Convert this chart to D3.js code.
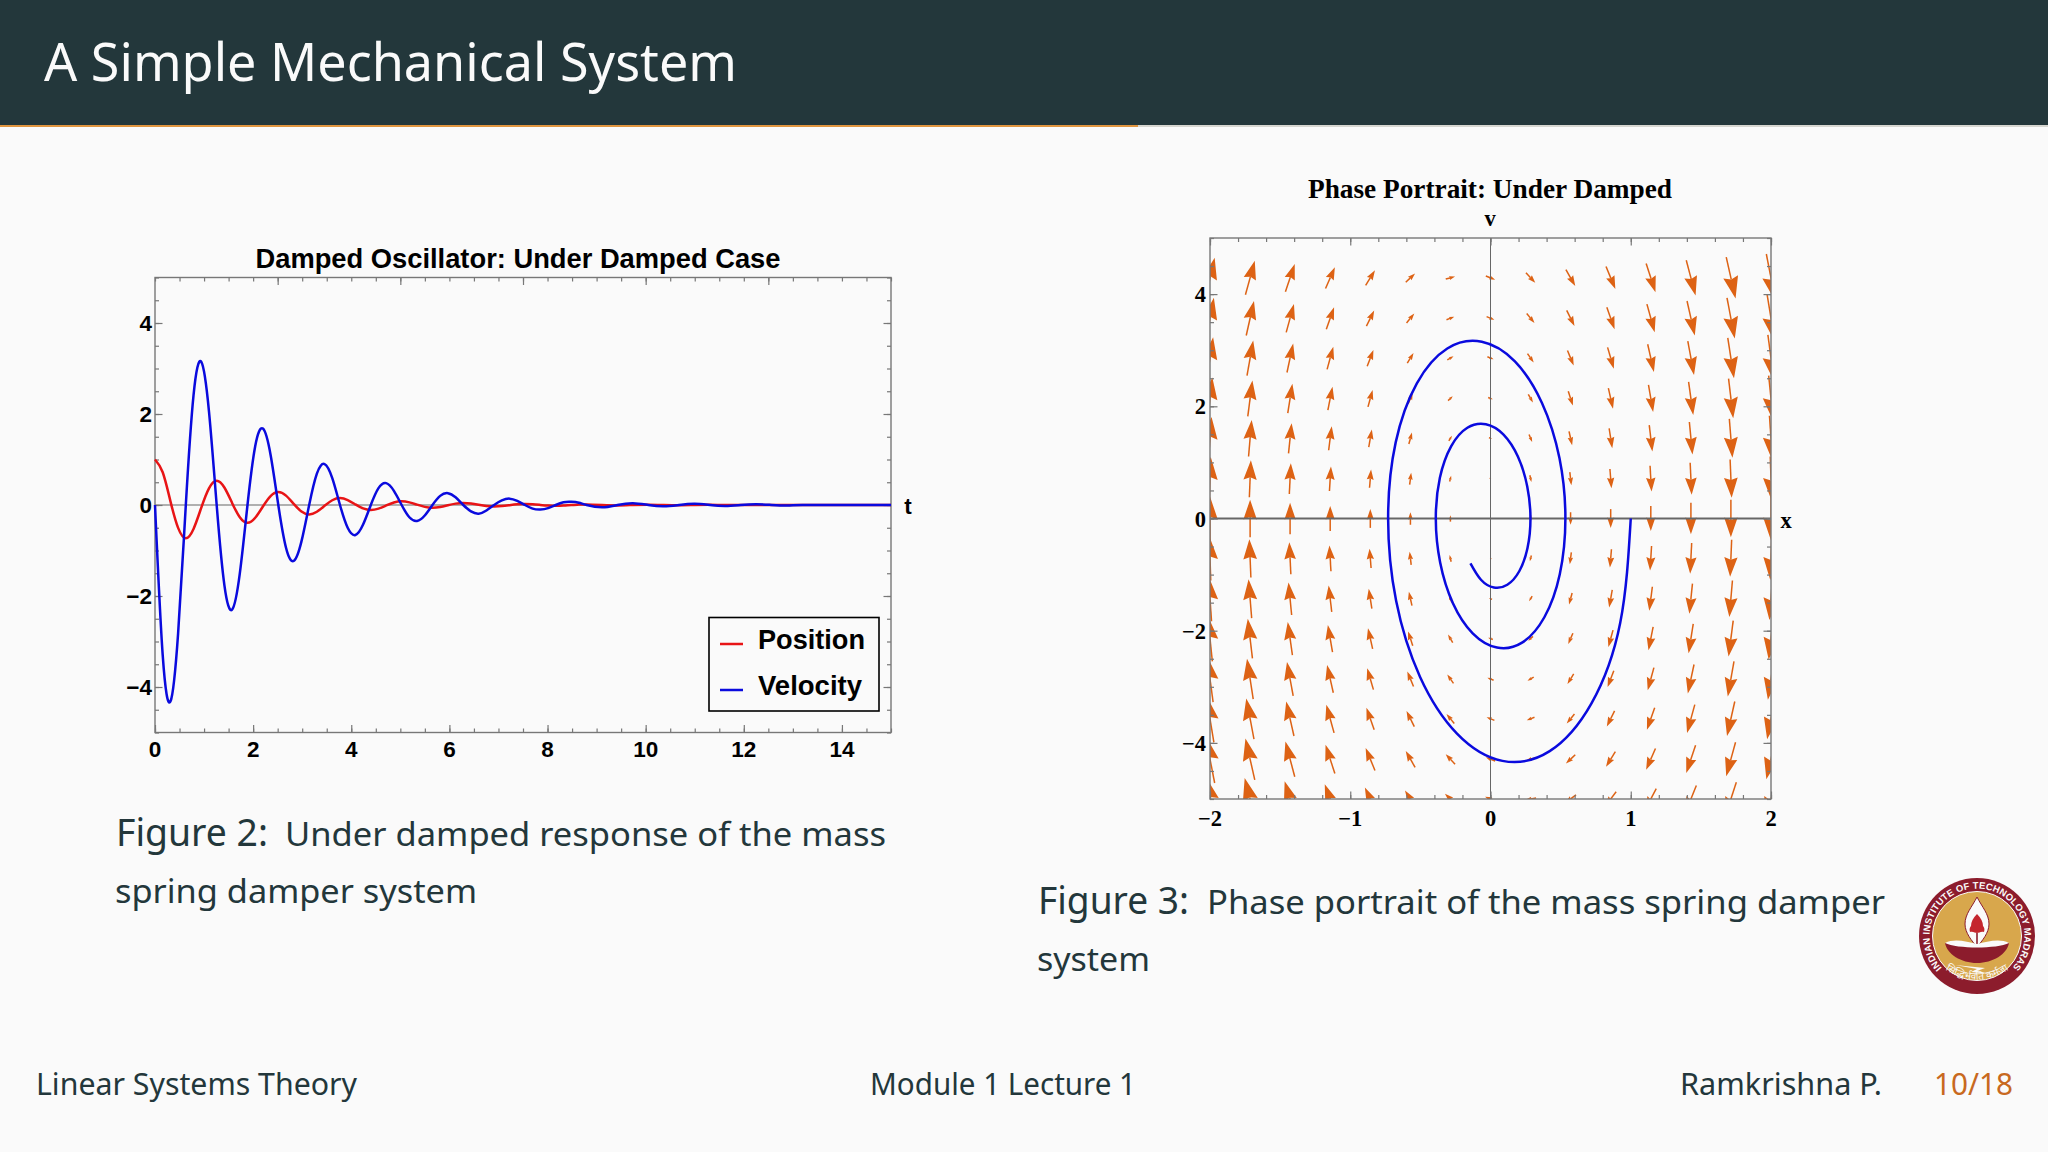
<!DOCTYPE html>
<html>
<head>
<meta charset="utf-8">
<script src="https://cdn.jsdelivr.net/npm/d3@7"></script>
<style>
  html, body { margin: 0; padding: 0; background: #fafafa; }
  svg { display: block; }
</style>
</head>
<body>
<svg id="slide" width="2048" height="1152"></svg>
<script>
// values
const timeValues = [0,.157,.314,.471,.628,.785,.942,1.1,1.257,1.414,1.571,1.728,1.885,2.042,2.199,2.356,2.513,2.67,2.827,2.985,
  3.142,3.299,3.456,3.613,3.77,3.927,4.084,4.241,4.398,4.555,4.712,4.869,5.027,5.184,5.341,5.498,5.655,5.812,5.969,6.126,
  6.283,6.44,6.597,6.754,6.912,7.069,7.226,7.383,7.54,7.697,7.854,8.011,8.168,8.325,8.482,8.639,8.796,
  9.111,9.425,9.739,10.053,10.367,10.681,10.996,11.31,11.624,11.938,12.252,12.566,12.881,13.195,13.823,14.451,15];
const positionValues = [1,.719,.085,-.503,-.73,-.525,-.062,.367,.534,.384,.046,-.268,-.39,-.28,-.033,.196,.285,.205,.024,-.143,
  -.208,-.149,-.018,.104,.152,.109,.013,-.076,-.111,-.08,-.01,.056,.081,.058,.007,-.041,-.059,-.043,-.005,.03,
  .043,.031,.004,-.022,-.031,-.023,-.003,.016,.023,.017,.002,-.012,-.017,-.012,0,.009,.012,
  0,-.009,0,.006,0,-.005,0,.003,0,-.002,0,.001,0,0,0,0,0];
const velocityValues = [0,-3.3,-4.32,-2.82,0,2.41,3.15,2.06,0,-1.76,-2.3,-1.51,0,1.29,1.68,1.1,0,-.94,-1.23,-.8,
  0,.69,.9,.59,0,-.5,-.66,-.43,0,.37,.48,.31,0,-.27,-.35,-.23,0,.2,.26,.17,
  0,-.14,-.19,-.12,0,.1,.14,.09,0,-.08,-.1,-.07,0,.06,.07,.05,0,
  -.05,0,.04,0,-.03,0,.025,0,-.02,0,.015,0,-.012,0,0,0,0];

// spiral in the phase plane, from (1, 0) inward
const phasePositions = [1,.925,.719,.422,.085,-.239,-.503,-.673,-.73,-.676,-.525,-.308,-.062,.174,.367,.492,.534,.494,.384,.225,
  .046,-.127,-.268,-.359,-.39,-.361,-.28,-.165,-.033,.093,.196,.262,.285,.2635,.205,.12,.024,-.068,-.143];
const phaseVelocities = [0,-1.858,-3.3,-4.147,-4.32,-3.834,-2.82,-1.468,0,1.357,2.41,3.03,3.15,2.8,2.06,1.073,0,-.992,-1.76,-2.213,
  -2.3,-2.046,-1.51,-.784,0,.725,1.29,1.617,1.68,1.495,1.1,.572,0,-.529,-.94,-1.181,-1.23,-1.092,-.8];

const seriesNames = ['Position', 'Velocity'];
const timeTicks = [0,2,4,6,8,10,12,14];
const timeTopTicks = [2.5,5,7.5,10,12.5];
const responseTicks = [-4,-2,0,2,4];
const phaseXTicks = [-2,-1,0,1,2];
const phaseVTicks = [-4,-2,0,2,4];

// vector field samples: columns in x, rows in v
const fieldX = [-2,-1.714,-1.429,-1.143,-.857,-.571,-.286,0,.286,.571,.857,1.143,1.429,1.714,2];
const fieldV = [4.29,3.57,2.86,2.14,1.43,.71,0,-.71,-1.43,-2.14,-2.86,-3.57,-4.29,-5];
const fieldDv = [
  [46.2,39.0,31.8,24.6,17.3,10.1,2.9,-4.3,-11.5,-18.7,-25.9,-33.2,-40.4,-47.6,-54.8],
  [46.9,39.7,32.5,25.3,18.0,10.8,3.6,-3.6,-10.8,-18.0,-25.2,-32.5,-39.7,-46.9,-54.1],
  [47.6,40.4,33.2,26.0,18.7,11.5,4.3,-2.9,-10.1,-17.3,-24.5,-31.8,-39.0,-46.2,-53.4],
  [48.4,41.2,34.0,26.8,19.5,12.3,5.1,-2.1,-9.3,-16.5,-23.7,-31.0,-38.2,-45.4,-52.6],
  [49.1,41.9,34.7,27.5,20.2,13.0,5.8,-1.4,-8.6,-15.8,-23.0,-30.3,-37.5,-44.7,-51.9],
  [49.8,42.6,35.4,28.2,20.9,13.7,6.5,-.7,-7.9,-15.1,-22.3,-29.6,-36.8,-44.0,-51.2],
  [50.5,43.3,36.1,28.9,21.6,14.4,7.2,0,-7.2,-14.4,-21.6,-28.9,-36.1,-43.3,-50.5],
  [51.2,44.0,36.8,29.6,22.3,15.1,7.9,.7,-6.5,-13.7,-20.9,-28.2,-35.4,-42.6,-49.8],
  [51.9,44.7,37.5,30.3,23.0,15.8,8.6,1.4,-5.8,-13.0,-20.2,-27.5,-34.7,-41.9,-49.1],
  [52.6,45.4,38.2,31.0,23.7,16.5,9.3,2.1,-5.1,-12.3,-19.5,-26.8,-34.0,-41.2,-48.4],
  [53.4,46.2,39.0,31.8,24.5,17.3,10.1,2.9,-4.3,-11.5,-18.7,-26.0,-33.2,-40.4,-47.6],
  [54.1,46.9,39.7,32.5,25.2,18.0,10.8,3.6,-3.6,-10.8,-18.0,-25.3,-32.5,-39.7,-46.9],
  [54.8,47.6,40.4,33.2,25.9,18.7,11.5,4.3,-2.9,-10.1,-17.3,-24.6,-31.8,-39.0,-46.2],
  [55.5,48.3,41.1,33.9,26.6,19.4,12.2,5.0,-2.2,-9.4,-16.6,-23.9,-31.1,-38.3,-45.5]
];

const INK = '#23373b', ORANGE = '#dd6214', FRAME = '#777';
const SLIDE_FONT = '"Noto Sans", sans-serif';
const SANS = '"Liberation Sans", Arial, sans-serif';
const SERIF = '"Liberation Serif", "Times New Roman", serif';
const minus = n => String(n).replace('-', '\u2212');

const svg = d3.select('#slide');

function label(parent, x, y, str, opts = {}) {
  const t = parent.append('text').attr('x', x).attr('y', y).text(str)
    .attr('font-family', opts.font || SLIDE_FONT)
    .attr('font-size', opts.size || 32)
    .attr('font-weight', opts.weight || 400)
    .attr('fill', opts.fill || INK)
    .attr('text-anchor', opts.anchor || 'start');
  if (opts.width) t.attr('textLength', opts.width).attr('lengthAdjust', 'spacingAndGlyphs');
  return t;
}

// slide chrome
svg.append('rect').attr('width', 2048).attr('height', 1152).attr('fill', '#fafafa');
svg.append('rect').attr('width', 2048).attr('height', 125).attr('fill', INK);
svg.append('rect').attr('y', 125).attr('width', 2048).attr('height', 2).attr('fill', '#d6d6d0');
svg.append('rect').attr('y', 125).attr('width', 1138).attr('height', 2).attr('fill', '#e0953f');
label(svg, 44, 81, 'A Simple Mechanical System', { size: 52, fill: '#fafafa', width: 693 });

label(svg, 116, 846, 'Figure 2:', { size: 39, width: 152 });
label(svg, 285, 846, 'Under damped response of the mass', { size: 33, width: 601 });
label(svg, 115, 903, 'spring damper system', { size: 33, width: 362 });
label(svg, 1038, 914, 'Figure 3:', { size: 39, width: 151 });
label(svg, 1207, 914, 'Phase portrait of the mass spring damper', { size: 33, width: 678 });
label(svg, 1037, 971, 'system', { size: 33, width: 113 });

label(svg, 36, 1095, 'Linear Systems Theory', { size: 30, width: 321 });
label(svg, 870, 1095, 'Module 1 Lecture 1', { size: 30, width: 266 });
label(svg, 1680, 1095, 'Ramkrishna P.', { size: 30, width: 202 });
label(svg, 1934, 1095, '10/18', { size: 30, width: 79, fill: '#c8691f' });

// inward tick marks on all four sides of a plot frame
function drawFrame(g, x, y, spec) {
  const [x0, x1] = x.range(), [y0, y1] = y.range();
  g.append('rect').attr('x', x0).attr('y', y1).attr('width', x1 - x0).attr('height', y0 - y1)
    .attr('fill', 'none').attr('stroke', FRAME).attr('stroke-width', 1.4);
  const style = a => a.call(s => s.select('.domain').remove())
    .call(s => s.selectAll('line').attr('stroke', FRAME).attr('stroke-width', 1.2))
    .call(s => s.selectAll('text').remove());
  const add = (axis, scale, vals, len, tx, ty) => g.append('g')
    .attr('transform', `translate(${tx},${ty})`)
    .call(axis(scale).tickValues(vals).tickSize(-len).tickFormat(''))
    .call(style);
  add(d3.axisBottom, x, spec.xMinor, 4, 0, y0);
  add(d3.axisBottom, x, spec.xMajor, 7.5, 0, y0);
  add(d3.axisTop, x, spec.xMinor, 4, 0, y1);
  add(d3.axisTop, x, spec.xTopMajor, 7.5, 0, y1);
  add(d3.axisLeft, y, spec.yMinor, 4, x0, 0);
  add(d3.axisLeft, y, spec.yMajor, 7.5, x0, 0);
  add(d3.axisRight, y, spec.yMinor, 4, x1, 0);
  add(d3.axisRight, y, spec.yMajor, 7.5, x1, 0);
}

// response plot
const plotA = svg.append('g');
const tScale = d3.scaleLinear().domain([0, 15]).range([155, 891]);
const rScale = d3.scaleLinear().domain([-5, 5]).range([732.5, 277.5]);

label(plotA, 518, 268, 'Damped Oscillator: Under Damped Case', { font: SANS, weight: 700, size: 27, fill: '#000', anchor: 'middle', width: 525 });

plotA.append('line').attr('x1', tScale(0)).attr('x2', tScale(15))
  .attr('y1', rScale(0)).attr('y2', rScale(0)).attr('stroke', '#666').attr('stroke-width', 1.2);
drawFrame(plotA, tScale, rScale, {
  xMinor: d3.range(0, 15.01, .5), xMajor: timeTicks, xTopMajor: timeTopTicks,
  yMinor: d3.range(-5, 5.01, .5), yMajor: responseTicks
});

const responseLine = values => d3.line().curve(d3.curveNatural)
  .x((_, i) => tScale(timeValues[i])).y(d => rScale(d))(values);
plotA.append('path').attr('d', responseLine(positionValues))
  .attr('fill', 'none').attr('stroke', '#e81416').attr('stroke-width', 2.5);
plotA.append('path').attr('d', responseLine(velocityValues))
  .attr('fill', 'none').attr('stroke', '#0a0ade').attr('stroke-width', 2.5);

timeTicks.forEach(t => label(plotA, tScale(t), 757, t, { font: SANS, weight: 700, size: 22.5, fill: '#000', anchor: 'middle' }));
responseTicks.forEach(r => label(plotA, 152, rScale(r) + 8, minus(r), { font: SANS, weight: 700, size: 22.5, fill: '#000', anchor: 'end' }));
label(plotA, 908, 514, 't', { font: SANS, weight: 700, size: 22.5, fill: '#000', anchor: 'middle' });

// legend
plotA.append('rect').attr('x', 709).attr('y', 617.5).attr('width', 170).attr('height', 93.5)
  .attr('fill', '#fafafa').attr('stroke', '#000').attr('stroke-width', 1.6);
seriesNames.forEach((name, i) => {
  const ly = 644 + i * 46;
  plotA.append('line').attr('x1', 720).attr('x2', 743).attr('y1', ly).attr('y2', ly)
    .attr('stroke', i ? '#0a0ade' : '#e81416').attr('stroke-width', 2.5);
  label(plotA, 758, 649 + i * 45.5, name, { font: SANS, weight: 700, size: 28, fill: '#000', width: i ? 104 : 107 });
});

// phase portrait
const plotB = svg.append('g');
const xScale = d3.scaleLinear().domain([-2, 2]).range([1210, 1771]);
const vScale = d3.scaleLinear().domain([-5, 5]).range([799, 238]);

label(plotB, 1490, 198, 'Phase Portrait: Under Damped', { font: SERIF, weight: 700, size: 27, fill: '#000', anchor: 'middle', width: 364 });
label(plotB, 1490, 226, 'v', { font: SERIF, weight: 700, size: 22.5, fill: '#000', anchor: 'middle' });
label(plotB, 1786, 528, 'x', { font: SERIF, weight: 700, size: 22.5, fill: '#000', anchor: 'middle' });

svg.append('clipPath').attr('id', 'phase-clip').append('rect')
  .attr('x', xScale(-2)).attr('y', vScale(5))
  .attr('width', xScale(2) - xScale(-2)).attr('height', vScale(-5) - vScale(5));

const ARROW_SCALE = .0155;
const arrows = [];
fieldV.forEach((v, r) => fieldX.forEach((x, c) => arrows.push({ x, v, dv: fieldDv[r][c] })));

const arrowG = plotB.append('g').attr('clip-path', 'url(#phase-clip)');
arrowG.selectAll('g').data(arrows.filter(a => a.v !== 0 || a.dv !== 0)).enter().append('g')
  .each(function (a) {
    const hx = (xScale(a.x + a.v * ARROW_SCALE) - xScale(a.x)) / 2;
    const hy = (vScale(a.v + a.dv * ARROW_SCALE) - vScale(a.v)) / 2;
    const len = Math.hypot(hx, hy) * 2;
    const cx = xScale(a.x), cy = vScale(a.v);
    const ux = hx * 2 / len, uy = hy * 2 / len;
    const tipX = cx + hx, tipY = cy + hy;
    const head = len * .5 + 1;
    const half = head * .34;
    const bx = tipX - ux * head, by = tipY - uy * head;
    const nx = tipX - ux * head * .88, ny = tipY - uy * head * .88;
    const g = d3.select(this);
    g.append('line').attr('x1', cx - hx).attr('y1', cy - hy).attr('x2', nx).attr('y2', ny)
      .attr('stroke', ORANGE).attr('stroke-width', 1.5);
    g.append('path').attr('fill', ORANGE)
      .attr('d', `M${tipX},${tipY}L${bx - uy * half},${by + ux * half}L${nx},${ny}L${bx + uy * half},${by - ux * half}Z`);
  });

plotB.append('line').attr('x1', xScale(-2)).attr('x2', xScale(2))
  .attr('y1', vScale(0)).attr('y2', vScale(0)).attr('stroke', '#666').attr('stroke-width', 1.8);
plotB.append('line').attr('x1', xScale(0)).attr('x2', xScale(0))
  .attr('y1', vScale(-5)).attr('y2', vScale(5)).attr('stroke', '#666').attr('stroke-width', 1);
drawFrame(plotB, xScale, vScale, {
  xMinor: d3.range(-2, 2.01, .2), xMajor: phaseXTicks, xTopMajor: phaseXTicks,
  yMinor: d3.range(-5, 5.01, .5), yMajor: phaseVTicks
});

const phaseLine = d3.line().curve(d3.curveNatural)
  .x(d => xScale(d)).y((_, i) => vScale(phaseVelocities[i]));
plotB.append('path').attr('d', phaseLine(phasePositions))
  .attr('fill', 'none').attr('stroke', '#0a0ade').attr('stroke-width', 2.5);

phaseXTicks.forEach(t => label(plotB, xScale(t), 826, minus(t), { font: SERIF, weight: 700, size: 22.5, fill: '#000', anchor: 'middle' }));
phaseVTicks.forEach(t => label(plotB, 1206, vScale(t) + 8, minus(t), { font: SERIF, weight: 700, size: 22.5, fill: '#000', anchor: 'end' }));

// institute logo
const logo = svg.append('g').attr('transform', 'translate(1977,936)');
logo.append('circle').attr('r', 58).attr('fill', '#8c1c2c');
logo.append('circle').attr('r', 44.5).attr('fill', '#d8a74c').attr('stroke', '#fafafa').attr('stroke-width', 1);
logo.append('defs').call(d => {
  d.append('path').attr('id', 'logo-top').attr('d', 'M-33.5,33.5A47.4,47.4 0 1 1 33.5,33.5');
  d.append('path').attr('id', 'logo-bottom').attr('d', 'M-39,27A54,54 0 0 0 39,27');
});
const logoText = logo.append('text').attr('font-family', SANS).attr('font-weight', 700).attr('fill', '#fafafa');
logoText.append('textPath').attr('href', '#logo-top').attr('startOffset', '1%')
  .attr('font-size', 9.5).attr('textLength', 218)
  .text('INDIAN INSTITUTE OF TECHNOLOGY MADRAS');
logoText.append('textPath').attr('href', '#logo-bottom').attr('startOffset', '50%').attr('text-anchor', 'middle')
  .attr('font-family', SLIDE_FONT).attr('font-weight', 400).attr('font-size', 10)
  .text('सिद्धिर्भवति कर्मजा');
logo.append('path').attr('fill', '#fafafa').attr('stroke', '#8c1c2c').attr('stroke-width', 1)
  .attr('d', 'M0,-39C5,-29 12,-22 12,-12C12,-3 5,5 0,11C-5,5 -12,-3 -12,-12C-12,-22 -5,-29 0,-39Z');
logo.append('path').attr('fill', '#c4262e')
  .attr('d', 'M0,-22C4,-18 6,-14 6,-10C7,-9 8,-7 7,-4C4,-5 2,-3 0,-3C-2,-3 -4,-5 -7,-4C-8,-7 -7,-9 -6,-10C-6,-14 -4,-18 0,-22Z');
logo.append('line').attr('y1', -3).attr('y2', 8).attr('stroke', '#8c1c2c').attr('stroke-width', 1.6);
logo.append('path').attr('fill', '#fafafa').attr('d', 'M-32,7C-22,2 -10,6 0,8C10,6 22,2 32,7L24,14L-24,14Z');
logo.append('path').attr('fill', '#8c1c2c').attr('d', 'M-32,7C-20,13 20,13 32,7C30,18 16,27 0,27C-16,27 -30,18 -32,7Z');
logo.append('path').attr('fill', '#fafafa').attr('d', 'M-22,29L8,32L0,35L14,38L-6,36L0,33Z');
</script>
</body>
</html>
